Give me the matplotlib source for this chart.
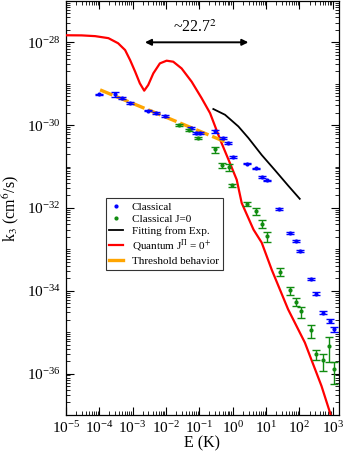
import numpy as np
import matplotlib
matplotlib.use("Agg")
import matplotlib.pyplot as plt
from matplotlib.ticker import FixedLocator, LogLocator, LogFormatterSciNotation, NullFormatter
from matplotlib.lines import Line2D

plt.rcParams['font.family'] = ['Liberation Serif', 'DejaVu Serif']
plt.rcParams['mathtext.fontset'] = 'stix'

# ---- data ----
E_cl = [1.0e-4, 2.95e-4, 4.8e-4, 8.5e-4, 2.95e-3, 5.0e-3, 9.3e-3, 5.5e-2, 7.9e-2, 1.02e-1,
        2.9e-1, 5.1e-1, 7.2e-1, 1.02, 2.6, 5.1, 7.8, 10.5, 24.0, 52.0, 79.0, 105.0,
        219.0, 309.0, 513.0, 813.0, 1070.0]
k_cl = [5.5e-30, 5.6e-30, 4.5e-30, 3.5e-30, 2.25e-30, 1.95e-30, 1.7e-30, 8.7e-31, 6.5e-31, 6.5e-31,
        7.1e-31, 4.9e-31, 3.7e-31, 1.7e-31, 1.17e-31, 9.1e-32, 5.6e-32, 4.6e-32,
        9.5e-33, 2.5e-33, 1.62e-33, 9.3e-34, 1.95e-34, 8.5e-35, 2.95e-35, 1.86e-35, 1.17e-35]
kerr_cl = [0.04, 0.14, 0.06, 0.06, 0.04, 0.06, 0.06, 0.06, 0.04, 0.04,
           0.10, 0.06, 0.06, 0.04, 0.04, 0.04, 0.05, 0.05, 0.04, 0.04, 0.05, 0.05,
           0.07, 0.07, 0.09, 0.10, 0.12]

E_j0 = [2.5e-2, 4.9e-2, 8.9e-2, 3.0e-1, 4.9e-1, 7.8e-1, 9.5e-1, 2.6, 5.1, 7.8, 10.5,
        26.0, 52.0, 79.0, 110.0, 219.0, 309.0, 513.0, 776.0, 1070.0]
k_j0 = [1.0e-30, 7.8e-31, 4.9e-31, 2.6e-31, 1.07e-31, 9.5e-32, 3.5e-32, 1.26e-32, 8.3e-33,
        4.1e-33, 2.1e-33, 2.9e-34, 1.02e-34, 5.4e-35, 3.2e-35, 1.1e-35, 2.95e-36,
        2.1e-36, 4.7e-36, 1.26e-36]
kerr_j0 = [0.04, 0.06, 0.04, 0.17, 0.14, 0.2, 0.1, 0.12, 0.2, 0.22, 0.27,
           0.22, 0.22, 0.22, 0.3, 0.33, 0.28, 0.45, 0.6, 0.55]

E_fit = [0.263, 0.589, 1.48, 2.95, 7.4, 18.6, 45.7, 102.0]
k_fit = [2.45e-30, 1.78e-30, 9.3e-31, 4.9e-31, 1.9e-31, 8.1e-32, 3.47e-32, 1.66e-32]

E_q = [1e-5, 3.0e-5, 7.6e-5, 1.9e-4, 3.7e-4, 6.0e-4, 8.5e-4, 1.2e-3, 1.66e-3, 2.24e-3,
       2.95e-3, 4.2e-3, 6.6e-3, 1.05e-2, 1.66e-2, 2.95e-2, 5.9e-2, 0.117, 0.21, 0.42,
       0.83, 1.32, 1.86, 4.2, 7.4, 14.8, 45.7, 145.0, 457.0, 813.0, 1000.0]
k_q = [1.48e-28, 1.47e-28, 1.41e-28, 1.26e-28, 9.5e-29, 6.5e-29, 3.7e-29, 1.95e-29, 1.02e-29, 6.8e-30,
       9.3e-30, 1.78e-29, 3.1e-29, 3.6e-29, 3.4e-29, 2.34e-29, 1.12e-29, 4.5e-30, 1.95e-30, 4.5e-31,
       1.2e-31, 4.8e-32, 1.32e-32, 3.0e-33, 1.45e-33, 3.2e-34, 3.55e-35, 5.6e-36, 5.0e-37, 1.17e-37,
       6.0e-38]

E_thr = [1.07e-4, 0.83]
k_thr = [7.1e-30, 3.55e-31]

arrow_E = [2.35e-3, 2.95]
arrow_k = 1e-28
ratio_text = "~22.7$^2$"

# ---- figure ----
fig = plt.figure(figsize=(3.46, 4.57), dpi=100)
ax = fig.add_axes([0.19, 0.092, 0.789, 0.906])
ax.set_xscale('log')
ax.set_yscale('log')
ax.set_xlim(1e-5, 1.5e3)
ax.set_ylim(1e-37, 1e-27)

blue = '#0000ff'
green = '#108c10'

ax.plot(E_q, k_q, color='red', lw=1.6, zorder=3)
ax.plot(E_fit, k_fit, color='black', lw=1.3, zorder=3)
ax.plot(E_thr, k_thr, color='#ffa500', lw=2.4, dashes=(4, 1.2), zorder=4)

k_cl_a = np.array(k_cl)
ax.errorbar(E_cl, k_cl, yerr=k_cl_a * np.array(kerr_cl), fmt='o', ms=2, color=blue,
            ecolor=blue, elinewidth=1.0, capsize=3, capthick=1.0, zorder=5)
k_j0_a = np.array(k_j0)
ax.errorbar(E_j0, k_j0, yerr=k_j0_a * np.array(kerr_j0), fmt='o', ms=2, color=green,
            ecolor=green, elinewidth=1.0, capsize=3, capthick=1.0, zorder=5)

# arrow annotation
ax.annotate('', xy=(arrow_E[1], arrow_k), xytext=(arrow_E[0], arrow_k),
            arrowprops=dict(arrowstyle='<|-|>', color='black', lw=1.4,
                            mutation_scale=9, shrinkA=0, shrinkB=0))
ax.text(np.sqrt(arrow_E[0] * arrow_E[1]) * 0.9, 2.2e-28, ratio_text, ha='center', va='center',
        fontsize=11.5)

# ticks
ax.xaxis.set_major_locator(LogLocator(base=10, numticks=20))
ax.xaxis.set_minor_locator(LogLocator(base=10, subs=np.arange(2, 10), numticks=50))
ax.xaxis.set_minor_formatter(NullFormatter())
ax.yaxis.set_major_locator(FixedLocator([1e-36, 1e-34, 1e-32, 1e-30, 1e-28]))
ax.yaxis.set_major_formatter(LogFormatterSciNotation())
ax.yaxis.set_minor_locator(LogLocator(base=10, subs=np.arange(1, 10), numticks=50))
ax.yaxis.set_minor_formatter(NullFormatter())
ax.tick_params(which='both', direction='in', top=True, right=True, labelsize=11)
ax.tick_params(which='major', length=6, width=0.8)
ax.tick_params(which='minor', length=3, width=0.6)
for s in ax.spines.values():
    s.set_linewidth(0.9)

ax.set_xlabel('E (K)', fontsize=11.5, labelpad=0)
ax.set_ylabel('k$_3$ (cm$^6$/s)', fontsize=11.5, labelpad=4)

# legend
handles = [
    Line2D([], [], ls='none', marker='o', ms=2, color=blue),
    Line2D([], [], ls='none', marker='o', ms=2, color=green),
    Line2D([], [], color='black', lw=1.3),
    Line2D([], [], color='red', lw=1.6),
    Line2D([], [], color='#ffa500', lw=2.4),
]
labels = ['Classical', 'Classical J=0', 'Fitting from Exp.',
          'Quantum J$^{\\Pi}$ = 0$^{+}$', 'Threshold behavior']
leg = ax.legend(handles, labels, loc='upper left', bbox_to_anchor=(0.146, 0.524),
                fontsize=8, frameon=True, fancybox=False, edgecolor='black',
                handlelength=1.2, handletextpad=0.8, borderpad=0.35, labelspacing=0.2,
                borderaxespad=0)
leg.get_frame().set_linewidth(0.8)

fig.savefig('out.png', dpi=100)
